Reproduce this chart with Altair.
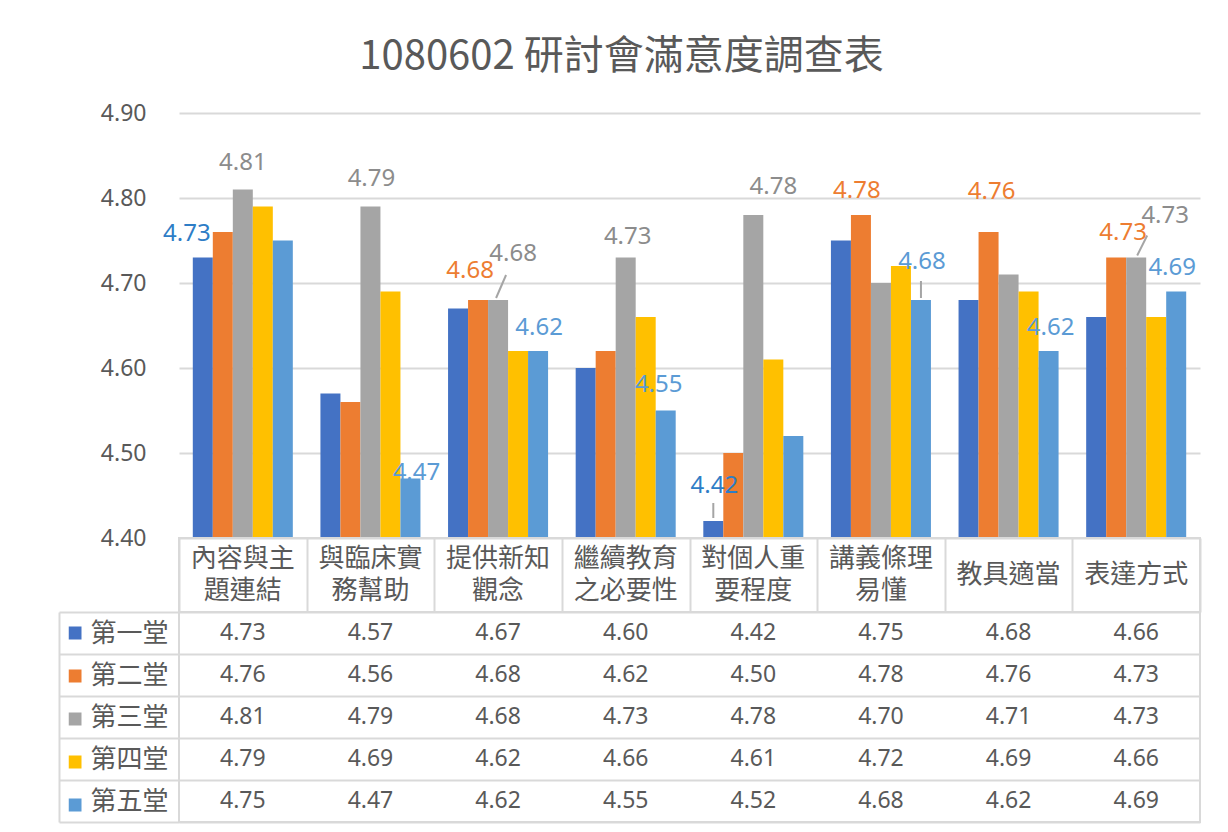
import altair as alt
import pandas as pd

# ---------------- data ----------------
title_text = "1080602 研討會滿意度調查表"
categories = ["內容與主\n題連結", "與臨床實\n務幫助", "提供新知\n觀念", "繼續教育\n之必要性",
              "對個人重\n要程度", "講義條理\n易懂", "教具適當", "表達方式"]
series_names = ["第一堂", "第二堂", "第三堂", "第四堂", "第五堂"]
s1 = [4.73, 4.57, 4.67, 4.60, 4.42, 4.75, 4.68, 4.66]
s2 = [4.76, 4.56, 4.68, 4.62, 4.50, 4.78, 4.76, 4.73]
s3 = [4.81, 4.79, 4.68, 4.73, 4.78, 4.70, 4.71, 4.73]
s4 = [4.79, 4.69, 4.62, 4.66, 4.61, 4.72, 4.69, 4.66]
s5 = [4.75, 4.47, 4.62, 4.55, 4.52, 4.68, 4.62, 4.69]
y_ticks = [4.40, 4.50, 4.60, 4.70, 4.80, 4.90]

# ---------------- styling ----------------
colors = ["#4472C4", "#ED7D31", "#A5A5A5", "#FFC000", "#5B9BD5"]
label_colors = ["#2E7DC6", "#ED7D31", "#8C8C8C", "#FFC000", "#5B9BD5"]
# which bars carry a data label: (category index, series index, dx, dy)
label_layout = [
    (0, 0, -16, -23.5), (0, 2, 0, -26.5),
    (1, 2, 1, -28), (1, 4, 6, -6),
    (2, 1, -8, -29), (2, 2, 15, -46), (2, 4, 1, -23),
    (3, 2, 2, -20.5), (3, 4, -7, -26),
    (4, 0, 1, -35), (4, 2, 20, -28),
    (5, 1, -4, -24), (5, 4, 1, -38),
    (6, 1, 3, -40), (6, 4, 2, -23),
    (7, 1, 7, -24.5), (7, 2, 29, -41.5), (7, 4, -4, -23.5),
]
# vertical leader lines: (category, series, y0, y1) offsets from bar top
vleader_layout = [(4, 0, -3, -18), (5, 4, -2, -19)]
# slanted leader lines from the middle (third) bar: (category, x0, y0, x1, y1)
dleader_layout = [(2, -2, -2, 8, -25), (7, 1, -2, 11, -22)]

GRID = "#D9D9D9"
TXT = "#595959"
CJK = "Noto Sans CJK TC"
LAT = "Noto Sans"
W, H = 1021, 425

values = [s1, s2, s3, s4, s5]
rows = []
for si, (name, vals) in enumerate(zip(series_names, values)):
    for ci, (cat, v) in enumerate(zip(categories, vals)):
        rows.append({"cat": cat, "ser": name, "value": v, "ci": ci, "si": si})
df = pd.DataFrame(rows)

x_scale = alt.Scale(domain=categories, paddingInner=0, paddingOuter=0)
off_scale = alt.Scale(domain=series_names, paddingInner=0, paddingOuter=0.69)
y_scale = alt.Scale(domain=[4.4, 4.9], nice=False, zero=False)
color_scale = alt.Scale(domain=series_names, range=colors)

base = alt.Chart(df)

bars = base.mark_bar().encode(
    x=alt.X("cat:N", scale=x_scale, axis=None),
    xOffset=alt.XOffset("ser:N", scale=off_scale),
    y=alt.Y("value:Q", scale=y_scale,
            axis=alt.Axis(values=y_ticks, format=".2f", title=None, domain=False, ticks=False,
                          labelFontSize=23, labelFont=LAT, labelColor=TXT, labelPadding=33,
                          gridColor=GRID, gridWidth=2)),
    y2=alt.datum(4.4),
    color=alt.Color("ser:N", scale=color_scale,
                    legend=alt.Legend(orient="none", legendX=-110.5, legendY=499, title=None,
                                      symbolType="square", symbolSize=169, symbolStrokeWidth=0,
                                      labelExpr="''", labelFontSize=1, clipHeight=42.1,
                                      rowPadding=0, padding=0)),
)

layers = [bars]
for ci, si, dx, dy in label_layout:
    layers.append(
        base.transform_filter(f"datum.ci == {ci} && datum.si == {si}")
        .mark_text(dx=dx, dy=dy, color=label_colors[si], fontSize=24, font=LAT, baseline="middle")
        .encode(
            x=alt.X("cat:N", scale=x_scale, axis=None),
            xOffset=alt.XOffset("ser:N", scale=off_scale),
            y=alt.Y("value:Q", scale=y_scale),
            text=alt.Text("value:Q", format=".2f"),
        )
    )
for ci, si, y0, y1 in vleader_layout:
    layers.append(
        base.transform_filter(f"datum.ci == {ci} && datum.si == {si}")
        .mark_rule(color="#A5A5A5", strokeWidth=2, yOffset=y0, y2Offset=y1)
        .encode(
            x=alt.X("cat:N", scale=x_scale, axis=None),
            xOffset=alt.XOffset("ser:N", scale=off_scale),
            y=alt.Y("value:Q", scale=y_scale),
            y2=alt.Y2("value:Q"),
        )
    )
for ci, x0, y0, x1, y1 in dleader_layout:
    layers.append(
        base.transform_filter(f"datum.ci == {ci} && datum.si == 2")
        .mark_rule(color="#A5A5A5", strokeWidth=2, xOffset=x0, x2Offset=x1, yOffset=y0, y2Offset=y1)
        .encode(
            x=alt.X("cat:N", scale=x_scale, axis=None),
            x2=alt.X2("cat:N"),
            y=alt.Y("value:Q", scale=y_scale),
            y2=alt.Y2("value:Q"),
        )
    )

top = alt.layer(*layers).properties(width=W, height=H,
                                     view=alt.ViewBackground(stroke="transparent", strokeWidth=0))

# header row with category names
cat_df = pd.DataFrame({"cat": categories})
cat_df["two"] = cat_df["cat"].str.contains("\n")
header_x = alt.X("cat:N", scale=x_scale,
                 axis=alt.Axis(grid=True, tickBand="extent", labels=False, ticks=False,
                               domain=False, title=None, gridColor=GRID, gridWidth=2))
header_two = alt.Chart(cat_df).transform_filter("datum.two").mark_text(
    lineBreak="\n", fontSize=26, font=CJK, color=TXT, lineHeight=32, baseline="middle", dy=-16
).encode(x=header_x, text="cat:N")
header_one = alt.Chart(cat_df).transform_filter("!datum.two").mark_text(
    fontSize=26, font=CJK, color=TXT, baseline="middle"
).encode(x=header_x, text="cat:N")
header = alt.layer(header_two, header_one).properties(
    width=W, height=74, view=alt.ViewBackground(stroke=GRID, strokeWidth=2))

# data table
table_text = base.mark_text(fontSize=23, font=LAT, color=TXT, baseline="middle").encode(
    x=alt.X("cat:N", scale=x_scale,
            axis=alt.Axis(grid=True, tickBand="extent", labels=False, ticks=False, domain=False,
                          title=None, gridColor=GRID, gridWidth=2)),
    y=alt.Y("ser:N", scale=alt.Scale(domain=series_names, paddingInner=0, paddingOuter=0),
            axis=alt.Axis(orient="left", grid=True, tickBand="extent", ticks=True, tickSize=120,
                          tickColor=GRID, tickWidth=2, domain=False, labelAlign="left",
                          labelPadding=-31, labelFontSize=26, labelFont=CJK, labelColor=TXT,
                          title=None, gridColor=GRID, gridWidth=2)),
    text=alt.Text("value:Q", format=".2f"),
)
table_edge = base.mark_point(opacity=0).encode(
    x=alt.X("cat:N", scale=x_scale, axis=None),
    y=alt.Y("ser:N", scale=alt.Scale(domain=series_names, paddingInner=0, paddingOuter=0),
            axis=alt.Axis(orient="left", offset=120, domain=True, domainColor=GRID, domainWidth=2,
                          labels=False, ticks=False, grid=False, title=None)),
)
table = alt.layer(table_text, table_edge).resolve_scale(y="independent").properties(
    width=W, height=210, view=alt.ViewBackground(stroke=GRID, strokeWidth=2))

chart = alt.vconcat(top, header, table, spacing=0, bounds="flush").properties(
    title=alt.Title(title_text, fontSize=40, font=CJK, color=TXT, fontWeight="normal",
                    anchor="middle", frame="group", dx=-68, offset=25),
    padding={"left": 49, "top": 29, "right": 10, "bottom": 1},
).configure_view(stroke="transparent")

chart.save("out.html", embed_options={"renderer": "svg", "actions": False})
